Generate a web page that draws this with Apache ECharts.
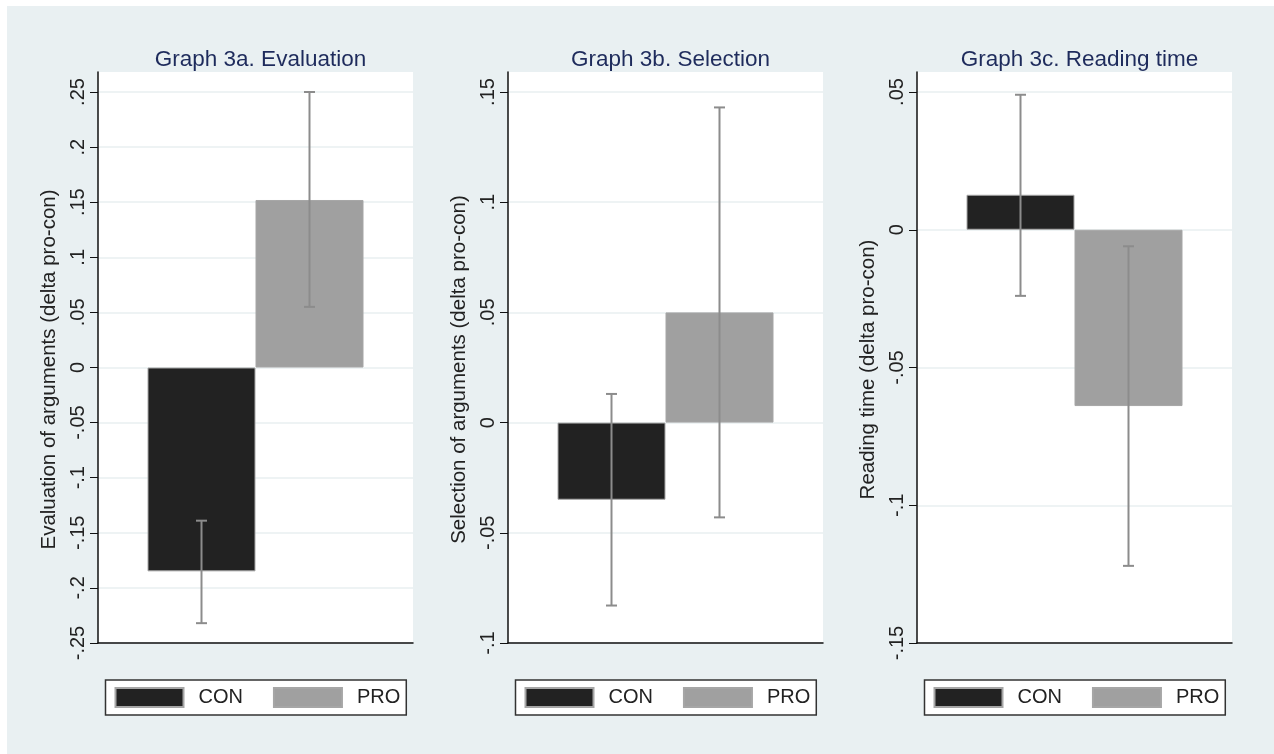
<!DOCTYPE html>
<html>
<head>
<meta charset="utf-8">
<script src="https://cdn.jsdelivr.net/npm/echarts@6/dist/echarts.min.js"></script>
<style>
  html, body { margin: 0; padding: 0; background: #ffffff; }
  #chart { position: absolute; left: 7px; top: 6px; width: 1267px; height: 748px; }
</style>
</head>
<body>
<div id="chart"></div>
<script>
// ---------- data ----------
const groups = ['CON', 'PRO'];
const titles = ['Graph 3a. Evaluation', 'Graph 3b. Selection', 'Graph 3c. Reading time'];
const yNames = ['Evaluation of arguments (delta pro-con)', 'Selection of arguments (delta pro-con)', 'Reading time (delta pro-con)'];

const evalMeans = [-0.185, 0.152];
const evalLow   = [-0.232, 0.055];
const evalHigh  = [-0.139, 0.250];
const evalTicks = [-0.25, -0.2, -0.15, -0.1, -0.05, 0, 0.05, 0.1, 0.15, 0.2, 0.25];

const selMeans = [-0.035, 0.050];
const selLow   = [-0.083, -0.043];
const selHigh  = [0.013, 0.143];
const selTicks = [-0.1, -0.05, 0, 0.05, 0.1, 0.15];

const readMeans = [0.0127, -0.064];
const readLow   = [-0.024, -0.122];
const readHigh  = [0.049, -0.006];
const readTicks = [-0.15, -0.1, -0.05, 0, 0.05];

const panels = [
  { means: evalMeans, low: evalLow, high: evalHigh, ticks: evalTicks },
  { means: selMeans,  low: selLow,  high: selHigh,  ticks: selTicks },
  { means: readMeans, low: readLow, high: readHigh, ticks: readTicks }
];

// ---------- styles / layout ----------
const colors = ['#222222', '#a0a0a0'];
const gridLefts = [91, 501, 910];
const gridWidth = 315;
const gridTop = 66;
const gridHeight = 571;
const barWidth = 108;
const topPadFrac = 20 / 551; // plot region extends above the last tick
const FONT = 'Liberation Sans, Arial, sans-serif';

function stataFmt(v) {
  const s = String(+v.toFixed(4));
  return s.replace(/^(-?)0\./, '$1.');
}

function errRender(offset) {
  return function (params, api) {
    const lo = api.coord([api.value(0), api.value(1)]);
    const hi = api.coord([api.value(0), api.value(2)]);
    const x = lo[0] + offset;
    const cap = 5.5;
    const st = { stroke: '#8c8c8c', lineWidth: 2 };
    return {
      type: 'group',
      children: [
        { type: 'line', shape: { x1: x, y1: lo[1], x2: x, y2: hi[1] }, style: st },
        { type: 'line', shape: { x1: x - cap, y1: lo[1], x2: x + cap, y2: lo[1] }, style: st },
        { type: 'line', shape: { x1: x - cap, y1: hi[1], x2: x + cap, y2: hi[1] }, style: st }
      ]
    };
  };
}

const grid = [], xAxis = [], yAxis = [], series = [], title = [], legend = [];

panels.forEach((p, i) => {
  const tMin = p.ticks[0], tMax = p.ticks[p.ticks.length - 1];
  const yMax = tMax + (tMax - tMin) * topPadFrac;
  grid.push({ left: gridLefts[i], top: gridTop, width: gridWidth, height: gridHeight,
              show: true, backgroundColor: '#ffffff', borderWidth: 0 });
  title.push({ text: titles[i], left: gridLefts[i] + gridWidth / 2, top: 37, textAlign: 'center',
               textStyle: { fontFamily: FONT, fontSize: 22.5, fontWeight: 'normal', color: '#1e2b5c' } });
  xAxis.push({ type: 'category', gridIndex: i, data: ['g'], boundaryGap: true,
               axisLine: { show: true, onZero: false, lineStyle: { color: '#111', width: 1.5 } },
               axisTick: { show: false }, axisLabel: { show: false }, splitLine: { show: false } });
  yAxis.push({ type: 'value', gridIndex: i, min: tMin, max: yMax, interval: 0.05,
               name: yNames[i], nameLocation: 'middle', nameGap: 38, nameRotate: 90,
               nameTextStyle: { fontFamily: FONT, fontSize: 20.5, color: '#222', padding: [0, 24, 0, 0] },
               axisLine: { show: true, lineStyle: { color: '#111', width: 1.5 } },
               axisTick: { show: true, length: 8, lineStyle: { color: '#111', width: 1 }, customValues: p.ticks },
               axisLabel: { rotate: 90, margin: 10, fontFamily: FONT, fontSize: 20, color: '#222',
                            customValues: p.ticks,
                            formatter: v => (p.ticks.some(t => Math.abs(t - v) < 1e-9) ? stataFmt(v) : '') },
               splitLine: { show: true, lineStyle: { color: '#e8eff1', width: 1.5 } } });
  groups.forEach((g, j) => {
    series.push({ type: 'bar', name: g, xAxisIndex: i, yAxisIndex: i, barWidth: barWidth, barGap: '0%',
                  data: [p.means[j]],
                  itemStyle: { color: colors[j], borderColor: '#a6a6a6', borderWidth: 1 } });
  });
  groups.forEach((g, j) => {
    series.push({ type: 'custom', name: g + ' CI', xAxisIndex: i, yAxisIndex: i, z: 5,
                  renderItem: errRender((j === 0 ? -1 : 1) * barWidth / 2),
                  data: [[0, p.low[j], p.high[j]]], silent: true });
  });
  legend.push({ data: [{ name: 'CON' }, { name: 'PRO' }], left: gridLefts[i] + gridWidth / 2 - 150, top: 674,
                orient: 'horizontal', icon: 'rect', itemWidth: 68, itemHeight: 19, itemGap: 30,
                backgroundColor: '#ffffff', borderColor: '#333', borderWidth: 1.5, padding: [7, 6, 7, 9],
                selectedMode: false,
                textStyle: { fontFamily: FONT, fontSize: 20, color: '#222', padding: [0, 0, 0, 10] } });
});

const chart = echarts.init(document.getElementById('chart'), null, { renderer: 'canvas' });
chart.setOption({
  backgroundColor: '#e9f0f2',
  animation: false,
  title, grid, xAxis, yAxis, series, legend
});
</script>
</body>
</html>
